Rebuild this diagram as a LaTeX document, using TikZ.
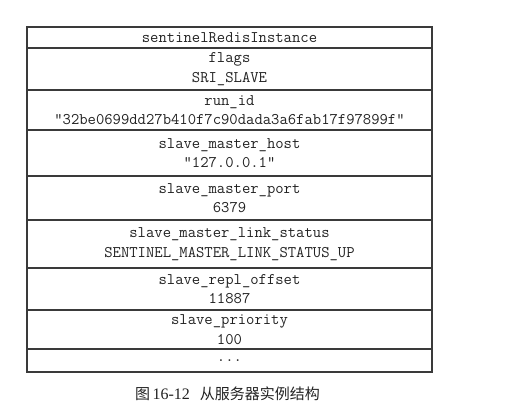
\documentclass[tikz,border=0pt]{standalone}
\usepackage{fontspec}
\setmainfont{Liberation Serif}
\newfontfamily\cjk{Noto Sans CJK SC}
\usetikzlibrary{positioning}
\definecolor{rule}{HTML}{3A3A3A}
\definecolor{ink}{HTML}{222222}

\begin{document}
\begin{tikzpicture}[x=1pt,y=1pt,
 node distance=0pt,
 row/.style={draw=rule,line width=1.1pt,outer sep=0pt,inner sep=0pt,
 minimum width=405pt,align=center,text=ink,
 font=\fontsize{16.2}{19.5}\selectfont\ttfamily}]
 \useasboundingbox (0,0) rectangle (520,418);
 \node[row,minimum height=21pt,anchor=north west] (head) at (27,391) {sentinelRedisInstance};
 \node[row,minimum height=42pt,below=of head] (flags) {flags\\SRI\_SLAVE};
 \node[row,minimum height=40pt,below=of flags] (runid) {run\_id\\"32be0699dd27b410f7c90dada3a6fab17f97899f"};
 \node[row,minimum height=46pt,below=of runid] (host) {slave\_master\_host\\"127.0.0.1"};
 \node[row,minimum height=44pt,below=of host] (port) {slave\_master\_port\\6379};
 \node[row,minimum height=48pt,below=of port] (link) {slave\_master\_link\_status\\SENTINEL\_MASTER\_LINK\_STATUS\_UP};
 \node[row,minimum height=42pt,below=of link] (offset) {slave\_repl\_offset\\11887};
 \node[row,minimum height=39pt,below=of offset] (prio) {slave\_priority\\100};
 \node[row,minimum height=23pt,below=of prio] (more) {...};
 \node[inner sep=0pt,text=ink,below=15pt of more,xshift=-2pt] (cap)
 {{\fontsize{15}{18}\selectfont\cjk 图}\ {\fontsize{16}{18}\selectfont 16-12}\quad{\fontsize{15}{18}\selectfont\cjk 从服务器实例结构}};
\end{tikzpicture}
\end{document}
